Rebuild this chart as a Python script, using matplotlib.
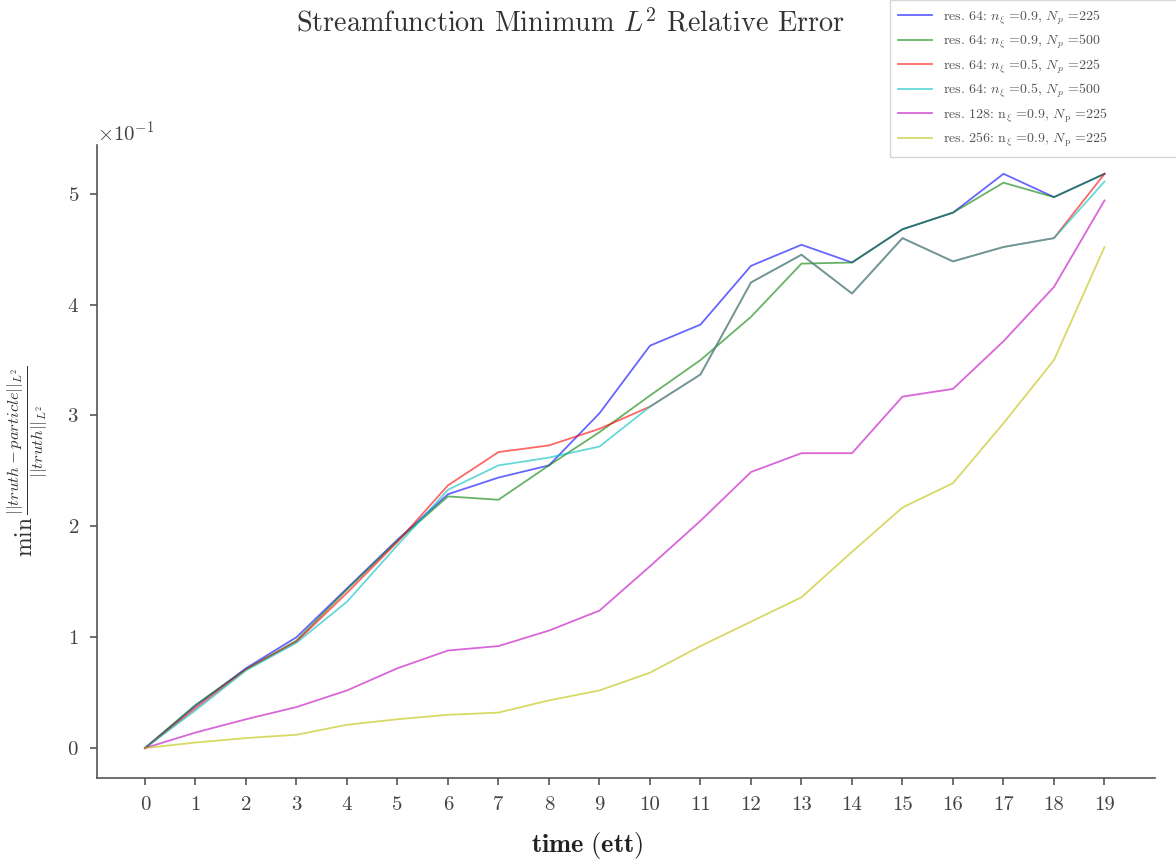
import numpy as np
import matplotlib
matplotlib.use("Agg")
import matplotlib.pyplot as plt

plt.rcParams['font.family'] = ['cmr10', 'DejaVu Serif']
plt.rcParams['mathtext.fontset'] = 'cm'
plt.rcParams['axes.formatter.use_mathtext'] = True
plt.rcParams['axes.unicode_minus'] = False

time = list(range(20))
scale = 1e-1  # values read in units of 10^-1

blue_64_09_225 = [0, 0.38, 0.72, 1.00, 1.44, 1.88, 2.29, 2.44, 2.55, 3.02, 3.63, 3.82, 4.35, 4.54, 4.38, 4.68, 4.83, 5.18, 4.97, 5.18]
green_64_09_500 = [0, 0.39, 0.71, 0.97, 1.43, 1.87, 2.27, 2.24, 2.55, 2.85, 3.18, 3.50, 3.89, 4.37, 4.38, 4.68, 4.83, 5.10, 4.97, 5.18]
red_64_05_225 = [0, 0.36, 0.71, 0.96, 1.40, 1.86, 2.37, 2.67, 2.73, 2.88, 3.08, 3.37, 4.20, 4.45, 4.10, 4.60, 4.39, 4.52, 4.60, 5.18]
cyan_64_05_500 = [0, 0.34, 0.70, 0.95, 1.32, 1.83, 2.33, 2.55, 2.62, 2.72, 3.08, 3.37, 4.20, 4.45, 4.10, 4.60, 4.39, 4.52, 4.60, 5.11]
magenta_128 = [0, 0.14, 0.26, 0.37, 0.52, 0.72, 0.88, 0.92, 1.06, 1.24, 1.64, 2.05, 2.49, 2.66, 2.66, 3.17, 3.24, 3.67, 4.16, 4.94]
yellow_256 = [0, 0.05, 0.09, 0.12, 0.21, 0.26, 0.30, 0.32, 0.43, 0.52, 0.68, 0.92, 1.14, 1.36, 1.77, 2.17, 2.39, 2.93, 3.50, 4.52]

series = [
    (blue_64_09_225, 'b', r'res. 64: $n_\xi$ =0.9, $N_p$ =225'),
    (green_64_09_500, 'g', r'res. 64: $n_\xi$ =0.9, $N_p$ =500'),
    (red_64_05_225, 'r', r'res. 64: $n_\xi$ =0.5, $N_p$ =225'),
    (cyan_64_05_500, 'c', r'res. 64: $n_\xi$ =0.5, $N_p$ =500'),
    (magenta_128, 'm', r'res. 128: $\mathrm{n}_\xi$ =0.9, $N_\mathrm{p}$ =225'),
    (yellow_256, 'y', r'res. 256: $\mathrm{n}_\xi$ =0.9, $N_\mathrm{p}$ =225'),
]

fig = plt.figure(figsize=(11.76, 8.65), dpi=100)
ax = fig.add_axes([97/1176, 1 - 778/865, (1155-97)/1176, (778-145)/865])

for vals, c, lab in series:
    ax.plot(time, np.array(vals) * scale, color=c, alpha=0.6, lw=1.3, label=lab)

ax.set_xlim(-0.95, 20.0)
ax.set_ylim(-0.027, 0.544)
ax.set_xticks(time)
ax.set_xticklabels([str(t) for t in time])
ax.set_yticks([0, 0.1, 0.2, 0.3, 0.4, 0.5])
ax.ticklabel_format(axis='y', style='sci', scilimits=(0, 0))
ax.yaxis.get_offset_text().set_fontsize(15)
ax.yaxis.get_offset_text().set_color('#444444')

for s in ['top', 'right']:
    ax.spines[s].set_visible(False)
for s in ['left', 'bottom']:
    ax.spines[s].set_color('#555555')
    ax.spines[s].set_linewidth(1.2)
ax.tick_params(axis='both', direction='out', length=5, width=1.2, color='#555555',
               labelsize=15, labelcolor='#444444', pad=8)

ax.set_xlabel(r'$\mathbf{time\ (ett)}$', fontsize=19, color='#222222')
ax.xaxis.set_label_coords((587-97)/(1155-97), -0.082)
ax.set_ylabel(r'$\min\,\frac{||truth - particle||_{L^2}}{||truth||_{L^2}}$', fontsize=17, color='#333333')
ax.yaxis.set_label_coords(-0.044, 0.5)

fig.text(570/1176, 1 - 23/865, r'Streamfunction Minimum $L^2$ Relative Error',
         ha='center', va='center', fontsize=20.3, color='#333333')

leg = ax.legend(loc='upper left', bbox_to_anchor=(890/1176, 0, 300/1176, 1.0),
                bbox_transform=fig.transFigure, mode='expand',
                fontsize=10, frameon=True, fancybox=False, edgecolor='#cccccc',
                handlelength=2.4, handletextpad=0.85, borderpad=0.6, labelspacing=0.45,
                borderaxespad=0)
for t in leg.get_texts():
    t.set_color('#555555')

fig.savefig('out.png', dpi=100)
